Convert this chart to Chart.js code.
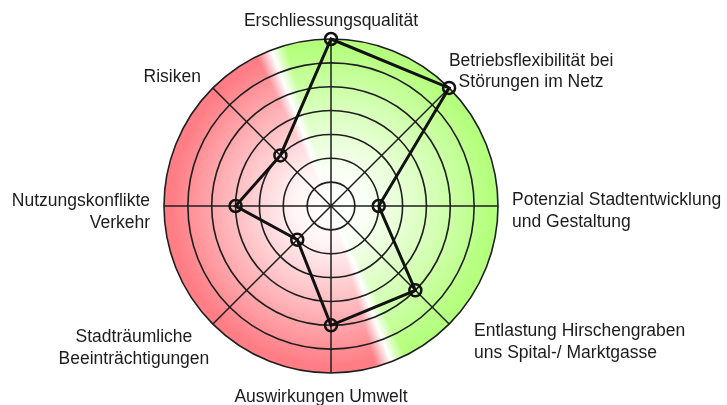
<!DOCTYPE html>
<html>
<head>
<meta charset="utf-8">
<script src="https://cdn.jsdelivr.net/npm/chart.js@4"></script>
<style>
  html, body { margin: 0; padding: 0; background: #fff; }
  #wrap { width: 727px; height: 405px; }
</style>
</head>
<body>
<div id="wrap"><canvas id="radar"></canvas></div>
<script>
// criteria, clockwise from the top
const categories = [
  ['Erschliessungsqualität'],
  ['Betriebsflexibilität bei', 'Störungen im Netz'],
  ['Potenzial Stadtentwicklung', 'und Gestaltung'],
  ['Entlastung Hirschengraben', 'uns Spital-/ Marktgasse'],
  ['Auswirkungen Umwelt'],
  ['Stadträumliche', 'Beeinträchtigungen'],
  ['Nutzungskonflikte', 'Verkehr'],
  ['Risiken']
]
const scores = [7, 7, 2, 5, 5, 2, 4, 3]
const scaleMin = 0
const scaleMax = 7

// where each label sits relative to the outer end of its spoke
const labelPlacement = [
  {align: 'center', dx: 0, dy: -13},
  {align: 'center', dx: 82, dy: -22},
  {align: 'left', dx: 14, dy: -1},
  {align: 'left', dx: 25, dy: 12},
  {align: 'center', dx: -10, dy: 29},
  {align: 'center', dx: -79, dy: 18},
  {align: 'right', dx: -14, dy: 0},
  {align: 'right', dx: -12, dy: -6}
]

const fontFamily = '"Liberation Sans", Arial, sans-serif'

// red / green halves, white towards the middle
const bgPlugin = {
  id: 'bg',
  beforeDraw(chart) {
    const s = chart.scales.r
    const ctx = chart.ctx
    const cx = s.xCenter, cy = s.yCenter, r = s.drawingArea
    const tilt = (-90 - 21) * Math.PI / 180
    const conic = ctx.createConicGradient(tilt, cx, cy)
    conic.addColorStop(0, '#ffffff')
    conic.addColorStop(0.015, '#b5ff7e')
    conic.addColorStop(0.485, '#b5ff7e')
    conic.addColorStop(0.5, '#ffffff')
    conic.addColorStop(0.515, '#ff7e86')
    conic.addColorStop(0.985, '#ff7e86')
    conic.addColorStop(1, '#ffffff')
    ctx.save()
    ctx.beginPath()
    ctx.arc(cx, cy, r, 0, Math.PI * 2)
    ctx.fillStyle = conic
    ctx.fill()
    const fade = ctx.createRadialGradient(cx, cy, 0, cx, cy, r)
    fade.addColorStop(0, 'rgba(255,255,255,1)')
    fade.addColorStop(0.22, 'rgba(255,255,255,0.92)')
    fade.addColorStop(0.65, 'rgba(255,255,255,0.4)')
    fade.addColorStop(0.95, 'rgba(255,255,255,0)')
    fade.addColorStop(1, 'rgba(255,255,255,0)')
    ctx.fillStyle = fade
    ctx.fill()
    ctx.restore()
  }
}

const labelPlugin = {
  id: 'labels',
  afterDraw(chart) {
    const s = chart.scales.r
    const ctx = chart.ctx
    ctx.save()
    ctx.font = '17.5px ' + fontFamily
    ctx.fillStyle = '#1c1c1c'
    ctx.textBaseline = 'alphabetic'
    categories.forEach((lines, i) => {
      const p = s.getPointPosition(i, s.drawingArea)
      const pl = labelPlacement[i]
      ctx.textAlign = pl.align
      lines.forEach((txt, j) => {
        ctx.fillText(txt, p.x + pl.dx, p.y + pl.dy + j * 21.5)
      })
    })
    ctx.restore()
  }
}

const ctx = document.getElementById('radar').getContext('2d')
new Chart(ctx, {
  type: 'radar',
  data: {
    labels: categories,
    datasets: [{
      data: scores,
      fill: false,
      borderColor: '#111',
      borderWidth: 3,
      pointRadius: 6,
      pointBorderWidth: 2.5,
      pointBorderColor: '#111',
      pointBackgroundColor: 'rgba(0,0,0,0)'
    }]
  },
  options: {
    responsive: true,
    maintainAspectRatio: false,
    animation: false,
    layout: {padding: {left: 0, right: 65, top: 39, bottom: 32}},
    plugins: {legend: {display: false}, tooltip: {enabled: false}},
    scales: {
      r: {
        min: scaleMin,
        max: scaleMax,
        ticks: {display: false, stepSize: 1},
        grid: {circular: true, color: '#1e1e1e', lineWidth: 1.6},
        angleLines: {color: '#1e1e1e', lineWidth: 1.5},
        pointLabels: {display: false}
      }
    }
  },
  plugins: [bgPlugin, labelPlugin]
})
</script>
</body>
</html>
